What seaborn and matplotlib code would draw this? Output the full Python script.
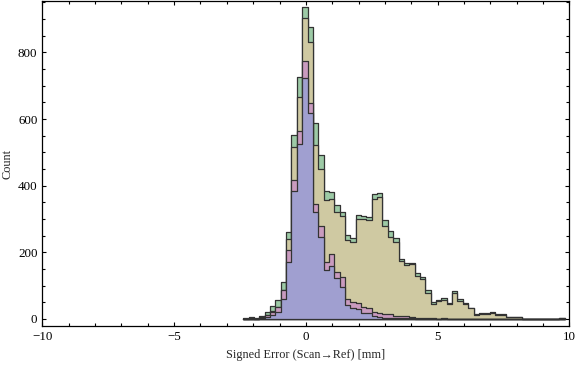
import numpy as np
import pandas as pd
import matplotlib
matplotlib.use("Agg")
import matplotlib.pyplot as plt
import seaborn as sns
from matplotlib.ticker import MultipleLocator

# ---- data (bin counts) ----
bin_start = -2.377
bin_width = 0.2032

blue = [0, 0, 1, 2, 5, 11, 20, 59, 172, 384,
        524, 724, 617, 322, 245, 147, 160, 123, 95, 42,
        34, 29, 19, 17, 10, 7, 4, 4, 3, 3,
        2, 2, 1, 1, 1, 0, 0, 0, 0, 0,
        0, 0, 0, 0, 0, 0, 0, 0, 0, 0,
        0, 0, 0, 0, 0, 0, 0, 0, 0, 0]
pink = [0, 1, 1, 4, 11, 21, 35, 86, 207, 416,
        565, 775, 647, 344, 280, 172, 194, 141, 125, 60,
        50, 47, 37, 32, 22, 17, 14, 15, 9, 10,
        8, 6, 4, 3, 2, 2, 1, 2, 1, 1,
        0, 0, 0, 0, 0, 0, 0, 0, 0, 0,
        0, 0, 0, 0, 0, 0, 0, 0, 0, 0]
khaki = [1, 2, 1, 5, 12, 23, 37, 88, 239, 517,
         667, 902, 830, 521, 449, 357, 359, 321, 310, 236,
         230, 300, 299, 297, 360, 367, 279, 247, 232, 174,
         162, 165, 130, 120, 79, 46, 53, 56, 44, 77,
         54, 45, 32, 13, 16, 16, 19, 13, 13, 5,
         5, 5, 0, 0, 0, 0, 0, 0, 0, 2]
green = [2, 5, 2, 8, 21, 38, 56, 110, 260, 553,
         725, 935, 875, 589, 491, 384, 382, 342, 320, 251,
         244, 312, 310, 307, 375, 377, 296, 264, 242, 180,
         167, 167, 137, 125, 87, 52, 57, 62, 47, 83,
         59, 47, 33, 14, 17, 17, 20, 14, 14, 6,
         6, 6, 0, 0, 0, 0, 0, 0, 0, 3]

x_label = "Signed Error (Scan\u2192Ref) [mm]"
y_label = "Count"
x_ticks = [-10, -5, 0, 5, 10]
x_tick_labels = ["\u221210", "\u22125", "0", "5", "10"]
y_ticks = [0, 200, 400, 600, 800]

# ---- build table ----
n_bins = len(blue)
edges = bin_start + bin_width * np.arange(n_bins + 1)
centers = (edges[:-1] + edges[1:]) / 2
series = {"green": green, "khaki": khaki, "pink": pink, "blue": blue}
df = pd.concat([pd.DataFrame({"x": centers, "count": v, "series": k})
                for k, v in series.items()], ignore_index=True)

colors = {"green": "#9dcaa6", "khaki": "#cfc9a2", "pink": "#c99bbf", "blue": "#a09fd0"}

sns.set_style("ticks")
plt.rcParams["font.family"] = ["Liberation Serif", "DejaVu Serif"]

fig = plt.figure(figsize=(5.76, 3.66), dpi=100)
ax = fig.add_axes([0.0734, 0.1093, 0.9153, 0.8877])

for name in ["green", "khaki", "pink", "blue"]:
    sub = df[df["series"] == name]
    sns.histplot(data=sub, x="x", weights="count",
                 binwidth=bin_width, binrange=(float(edges[0]), float(edges[-1])),
                 element="step", fill=True, color=colors[name], alpha=1.0,
                 edgecolor="#333333", linewidth=0.9, ax=ax)

ax.set_xlim(-10, 10)
ax.set_ylim(-21, 954)
ax.set_xticks(x_ticks)
ax.set_yticks(y_ticks)
ax.xaxis.set_minor_locator(MultipleLocator(1))
ax.yaxis.set_minor_locator(MultipleLocator(50))
ax.tick_params(which="both", direction="in", top=True, right=True,
               labelsize=9.4, colors="black", width=0.8)
ax.tick_params(which="major", length=3, pad=3.5)
ax.tick_params(which="minor", length=2)
ax.set_xticklabels(x_tick_labels)
for s in ax.spines.values():
    s.set_color("black")
    s.set_linewidth(0.9)
ax.set_xlabel(x_label, fontsize=8.8, labelpad=4.5)
ax.set_ylabel(y_label, fontsize=8.8)
ax.yaxis.set_label_coords(-0.054, 0.5)

fig.savefig("out.png", dpi=100)
